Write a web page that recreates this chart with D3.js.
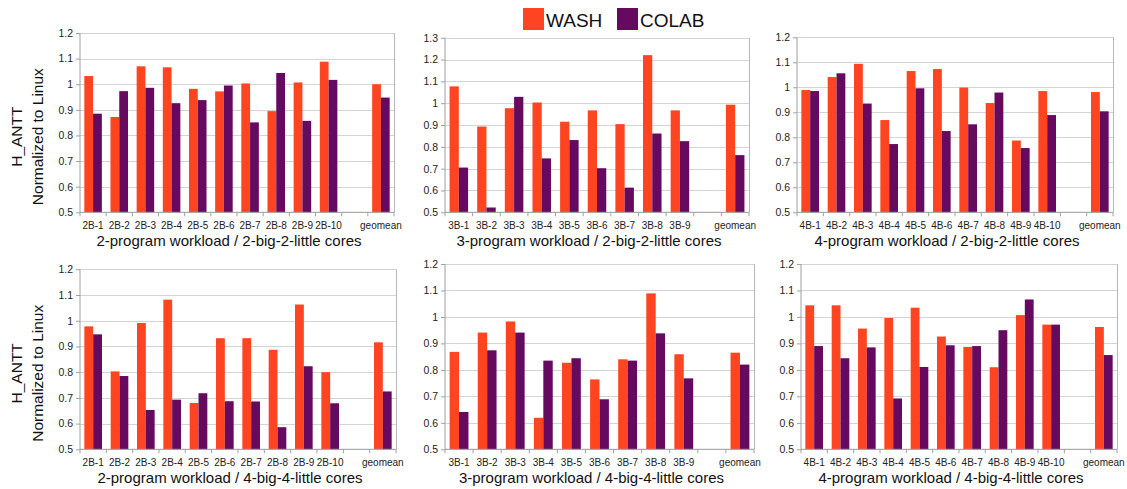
<!DOCTYPE html>
<meta charset="utf-8">
<head>
<style>
body { margin: 0; background: #fff; }
svg { font-family: "Liberation Sans", Arial, sans-serif; }
.grid line { stroke: #d4d4d4; stroke-width: 1px; }
.axis path, .axis line { stroke: #a0a0a0; }
.axis text { fill: #222; }
</style>
</head>
<body>
<svg width="1127" height="489"></svg>
<script src="https://cdn.jsdelivr.net/npm/d3@7"></script>
<script>
// series names and colours
var series = ["WASH", "COLAB"],
    colors = ["#ff4422", "#660a60"];

// category labels ("" is the empty gap before geomean)
var cats2B = ["2B-1","2B-2","2B-3","2B-4","2B-5","2B-6","2B-7","2B-8","2B-9","2B-10","","geomean"],
    cats3B = ["3B-1","3B-2","3B-3","3B-4","3B-5","3B-6","3B-7","3B-8","3B-9","","geomean"],
    cats4B = ["4B-1","4B-2","4B-3","4B-4","4B-5","4B-6","4B-7","4B-8","4B-9","4B-10","","geomean"];

// 2-big-2-little cores
var wash2B_22 = [1.032, 0.872, 1.070, 1.066, 0.982, 0.972, 1.003, 0.895, 1.007, 1.088, null, 1.000],
    colab2B_22 = [0.885, 0.973, 0.986, 0.926, 0.938, 0.995, 0.851, 1.044, 0.857, 1.017, null, 0.948];
var wash3B_22 = [1.077, 0.893, 0.977, 1.003, 0.915, 0.967, 0.904, 1.220, 0.967, null, 0.993],
    colab3B_22 = [0.705, 0.522, 1.029, 0.747, 0.831, 0.702, 0.613, 0.861, 0.826, null, 0.762];
var wash4B_22 = [0.989, 1.041, 1.094, 0.869, 1.065, 1.073, 0.999, 0.937, 0.787, 0.985, null, 0.981],
    colab4B_22 = [0.985, 1.056, 0.935, 0.773, 0.996, 0.825, 0.852, 0.979, 0.757, 0.889, null, 0.904];

// 4-big-4-little cores
var wash2B_44 = [0.978, 0.803, 0.991, 1.082, 0.680, 0.932, 0.932, 0.887, 1.063, 0.800, null, 0.916],
    colab2B_44 = [0.947, 0.785, 0.653, 0.693, 0.718, 0.687, 0.686, 0.586, 0.823, 0.679, null, 0.725];
var wash3B_44 = [0.868, 0.941, 0.983, 0.619, 0.827, 0.764, 0.840, 1.089, 0.859, null, 0.865],
    colab3B_44 = [0.641, 0.874, 0.941, 0.835, 0.844, 0.689, 0.835, 0.938, 0.768, null, 0.820];
var wash4B_44 = [1.044, 1.044, 0.956, 0.996, 1.035, 0.926, 0.887, 0.810, 1.007, 0.971, null, 0.962],
    colab4B_44 = [0.890, 0.844, 0.885, 0.692, 0.811, 0.893, 0.890, 0.950, 1.066, 0.971, null, 0.856];

var panels = [
  {cats: cats2B, vals: [wash2B_22, colab2B_22], yMax: 1.2, x0: 80,  x1: 394,  y0: 33,  y1: 212.3, title: "2-program workload / 2-big-2-little cores", yTitle: true},
  {cats: cats3B, vals: [wash3B_22, colab3B_22], yMax: 1.3, x0: 445, x1: 749,  y0: 37.7, y1: 212.3, title: "3-program workload / 2-big-2-little cores"},
  {cats: cats4B, vals: [wash4B_22, colab4B_22], yMax: 1.2, x0: 797, x1: 1113, y0: 37.3, y1: 212.3, title: "4-program workload / 2-big-2-little cores"},
  {cats: cats2B, vals: [wash2B_44, colab2B_44], yMax: 1.2, x0: 80,  x1: 396,  y0: 269.3, y1: 449.3, title: "2-program workload / 4-big-4-little cores", yTitle: true},
  {cats: cats3B, vals: [wash3B_44, colab3B_44], yMax: 1.2, x0: 445, x1: 754,  y0: 264, y1: 449.3, title: "3-program workload / 4-big-4-little cores"},
  {cats: cats4B, vals: [wash4B_44, colab4B_44], yMax: 1.2, x0: 801, x1: 1117, y0: 264, y1: 449.3, title: "4-program workload / 4-big-4-little cores"}
];

var svg = d3.select("svg");

panels.forEach(function(p) {
  var keys = p.cats.map(function(c, i) { return i; });
  var x = d3.scaleBand().domain(keys).range([p.x0, p.x1]);
  var xs = d3.scaleBand().domain([0, 1])
      .range([x.bandwidth() * 0.165, x.bandwidth() * 0.835]);
  var y = d3.scaleLinear().domain([0.5, p.yMax]).range([p.y1, p.y0]);
  var ticks = d3.range(0.5, p.yMax + 0.001, 0.1).map(function(d) { return +d.toFixed(1); });

  var g = svg.append("g");

  // gridlines
  g.append("g").attr("class", "grid")
    .selectAll("line").data(ticks).enter().append("line")
      .attr("x1", p.x0).attr("x2", p.x1)
      .attr("y1", function(d) { return Math.round(y(d)) + 0.5; })
      .attr("y2", function(d) { return Math.round(y(d)) + 0.5; });
  g.append("line")
      .attr("x1", Math.round(p.x1) + 0.5).attr("x2", Math.round(p.x1) + 0.5)
      .attr("y1", p.y0).attr("y2", p.y1)
      .attr("stroke", "#b8b8b8");

  // bars
  series.forEach(function(s, si) {
    g.append("g").selectAll("rect")
      .data(p.vals[si].map(function(v, i) { return {i: i, v: v}; })
        .filter(function(d) { return d.v != null; }))
      .enter().append("rect")
        .attr("x", function(d) { return x(d.i) + xs(si); })
        .attr("width", xs.bandwidth())
        .attr("y", function(d) { return y(d.v); })
        .attr("height", function(d) { return y(0.5) - y(d.v); })
        .attr("fill", colors[si]);
  });

  // y axis
  var ya = g.append("g").attr("class", "axis")
      .attr("transform", "translate(" + p.x0 + ",0)")
      .call(d3.axisLeft(y).tickValues(ticks).tickSize(4).tickPadding(3)
        .tickFormat(function(d) { return String(d); }));
  ya.select(".domain").remove();
  ya.append("line").attr("y1", p.y0).attr("y2", p.y1).attr("stroke", "#a0a0a0");
  ya.selectAll("text").attr("font-size", 10.5).attr("font-family", null);

  // x axis: ticks at category boundaries
  var xa = g.append("g").attr("class", "axis")
      .attr("transform", "translate(0," + p.y1 + ")");
  xa.append("line").attr("x1", p.x0).attr("x2", p.x1).attr("stroke", "#a0a0a0");
  xa.selectAll(".tk").data(d3.range(keys.length + 1)).enter().append("line")
      .attr("class", "tk")
      .attr("x1", function(i) { return x.step() * i + p.x0; })
      .attr("x2", function(i) { return x.step() * i + p.x0; })
      .attr("y1", 0).attr("y2", 4);
  xa.selectAll("text").data(p.cats).enter().append("text")
      .attr("x", function(c, i) { return x(i) + x.bandwidth() / 2; })
      .attr("y", 17)
      .attr("text-anchor", "middle")
      .attr("font-size", 10)
      .text(function(c) { return c; });

  // x title
  g.append("text")
      .attr("x", (p.x0 + p.x1) / 2 - 8)
      .attr("y", p.y1 + 34)
      .attr("text-anchor", "middle")
      .attr("font-size", 15)
      .attr("fill", "#111")
      .text(p.title);

  if (p.yTitle) {
    var cy = (p.y0 + p.y1) / 2 + 14;
    g.append("text")
        .attr("transform", "translate(22," + cy + ") rotate(-90)")
        .attr("text-anchor", "middle")
        .attr("font-size", 15.5).attr("fill", "#111")
        .text("H_ANTT");
    g.append("text")
        .attr("transform", "translate(43," + cy + ") rotate(-90)")
        .attr("text-anchor", "middle")
        .attr("font-size", 15.5).attr("fill", "#111")
        .text("Normalized to Linux");
  }
});

// legend
var legend = svg.append("g").attr("transform", "translate(523,8)");
var lx = [0, 94];
series.forEach(function(s, i) {
  legend.append("rect")
      .attr("x", lx[i]).attr("y", 0)
      .attr("width", 21).attr("height", 22)
      .attr("fill", colors[i]);
  legend.append("text")
      .attr("x", lx[i] + 23).attr("y", 19)
      .attr("font-size", 19).attr("fill", "#111")
      .text(s);
});
</script>
</body>
</html>
